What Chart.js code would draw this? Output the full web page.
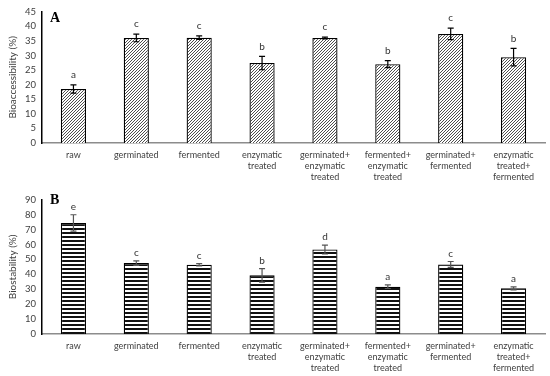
<!DOCTYPE html>
<html>
<head>
<title>Bioaccessibility and biostability</title>
<style>
  body { margin: 0; background: #fff; }
  .panel { position: relative; width: 550px; height: 188px; }
</style>
<script src="https://cdn.jsdelivr.net/npm/chart.js"></script>
</head>
<body>
<div class="panel"><canvas id="chartA"></canvas></div>
<div class="panel"><canvas id="chartB"></canvas></div>
<script>
const categories = [
  'raw', 'germinated', 'fermented', ['enzymatic', 'treated'],
  ['germinated+', 'enzymatic', 'treated'], ['fermented+', 'enzymatic', 'treated'],
  ['germinated+', 'fermented'], ['enzymatic', 'treated+', 'fermented']
];
const bioaccessibility = [18.5, 36.0, 36.1, 27.4, 36.0, 27.0, 37.4, 29.4];
const bioaccessErr = [1.4, 1.3, 0.6, 2.3, 0.3, 1.2, 2.0, 3.0];
const bioaccessLetters = ['a', 'c', 'c', 'b', 'c', 'b', 'c', 'b'];
const biostability = [74.4, 47.5, 46.4, 39.3, 56.6, 31.7, 46.6, 30.6];
const biostabErr = [5.5, 1.5, 0.8, 4.5, 3.0, 1.2, 2.0, 1.0];
const biostabLetters = ['e', 'c', 'c', 'b', 'd', 'a', 'c', 'a'];

function hatchPattern() {
  const c = document.createElement('canvas');
  c.width = 3; c.height = 3;
  const g = c.getContext('2d');
  g.fillStyle = '#fff'; g.fillRect(0, 0, 3, 3);
  g.strokeStyle = '#3a3a3a'; g.lineWidth = 0.9;
  g.beginPath();
  g.moveTo(0, 3); g.lineTo(3, 0);
  g.moveTo(-1, 1); g.lineTo(1, -1);
  g.moveTo(2, 4); g.lineTo(4, 2);
  g.stroke();
  return g.createPattern(c, 'repeat');
}

function stripePattern() {
  const c = document.createElement('canvas');
  c.width = 4; c.height = 4;
  const g = c.getContext('2d');
  g.fillStyle = '#fff'; g.fillRect(0, 0, 4, 4);
  g.fillStyle = '#111'; g.fillRect(0, 0, 4, 2);
  return g.createPattern(c, 'repeat');
}

// error bars, significance letters and panel tag
const extras = {
  id: 'extras',
  afterDatasetsDraw(chart, args, opts) {
    const ctx = chart.ctx;
    const meta = chart.getDatasetMeta(0);
    const y = chart.scales.y;
    ctx.save();
    meta.data.forEach((bar, i) => {
      const v = opts.values[i], e = opts.errors[i];
      const top = y.getPixelForValue(v + e), bot = y.getPixelForValue(v - e);
      ctx.strokeStyle = opts.errColor;
      ctx.lineWidth = 1.2;
      ctx.beginPath();
      ctx.moveTo(bar.x, top); ctx.lineTo(bar.x, bot);
      ctx.moveTo(bar.x - 3, top); ctx.lineTo(bar.x + 3, top);
      ctx.moveTo(bar.x - 3, bot); ctx.lineTo(bar.x + 3, bot);
      ctx.stroke();
      ctx.fillStyle = '#333';
      ctx.font = '10px Lato';
      ctx.textAlign = 'center';
      ctx.textBaseline = 'middle';
      ctx.fillText(opts.letters[i], bar.x, top - opts.letterGap);
    });
    ctx.fillStyle = '#000';
    ctx.font = 'bold 14px "Liberation Serif"';
    ctx.textAlign = 'left';
    ctx.textBaseline = 'middle';
    ctx.fillText(opts.tag, chart.chartArea.left + 8, opts.tagY);
    ctx.restore();
  }
};

function makeChart(id, values, errors, letters, fill, yMax, yStep, title, tag, pad, opts) {
  return new Chart(document.getElementById(id), {
    type: 'bar',
    data: {
      labels: categories,
      datasets: [{
        data: values,
        backgroundColor: fill,
        borderColor: '#000',
        borderWidth: 1.3,
        categoryPercentage: 0.8,
        barPercentage: 0.5
      }]
    },
    plugins: [extras],
    options: {
      responsive: false,
      animation: false,
      layout: { padding: pad },
      plugins: {
        legend: { display: false },
        tooltip: { enabled: false },
        extras: Object.assign({ values, errors, letters, tag }, opts)
      },
      scales: {
        x: {
          grid: { display: false, drawTicks: false },
          border: { color: '#8c8c8c', width: 1.5 },
          ticks: { color: '#404040', font: { family: 'Lato', size: 9 }, padding: 7, maxRotation: 0, autoSkip: false },
          afterFit: s => { s.height = opts.xHeight; }
        },
        y: {
          min: 0, max: yMax,
          grid: { display: false, drawTicks: false },
          border: { color: '#000', width: 1.5 },
          ticks: { stepSize: yStep, color: '#404040', font: { family: 'Lato', size: 9.5 }, padding: 6 },
          title: { display: true, text: title, color: '#404040', font: { family: 'Lato', size: 10 }, padding: 0 },
          afterFit: s => { s.width = 35; }
        }
      }
    }
  });
}

const cA = document.getElementById('chartA'); cA.width = 550; cA.height = 188;
const cB = document.getElementById('chartB'); cB.width = 550; cB.height = 188;

makeChart('chartA', bioaccessibility, bioaccessErr, bioaccessLetters, hatchPattern(),
  45, 5, 'Bioaccessibility (%)', 'A', { top: 9, right: 5, left: 7, bottom: 0 },
  { errColor: '#000', letterGap: 10, tagY: 18, xHeight: 45 });

makeChart('chartB', biostability, biostabErr, biostabLetters, stripePattern(),
  90, 10, 'Biostability (%)', 'B', { top: 11, right: 5, left: 7, bottom: 0 },
  { errColor: '#555', letterGap: 8, tagY: 12, xHeight: 42 });
</script>
</body>
</html>
